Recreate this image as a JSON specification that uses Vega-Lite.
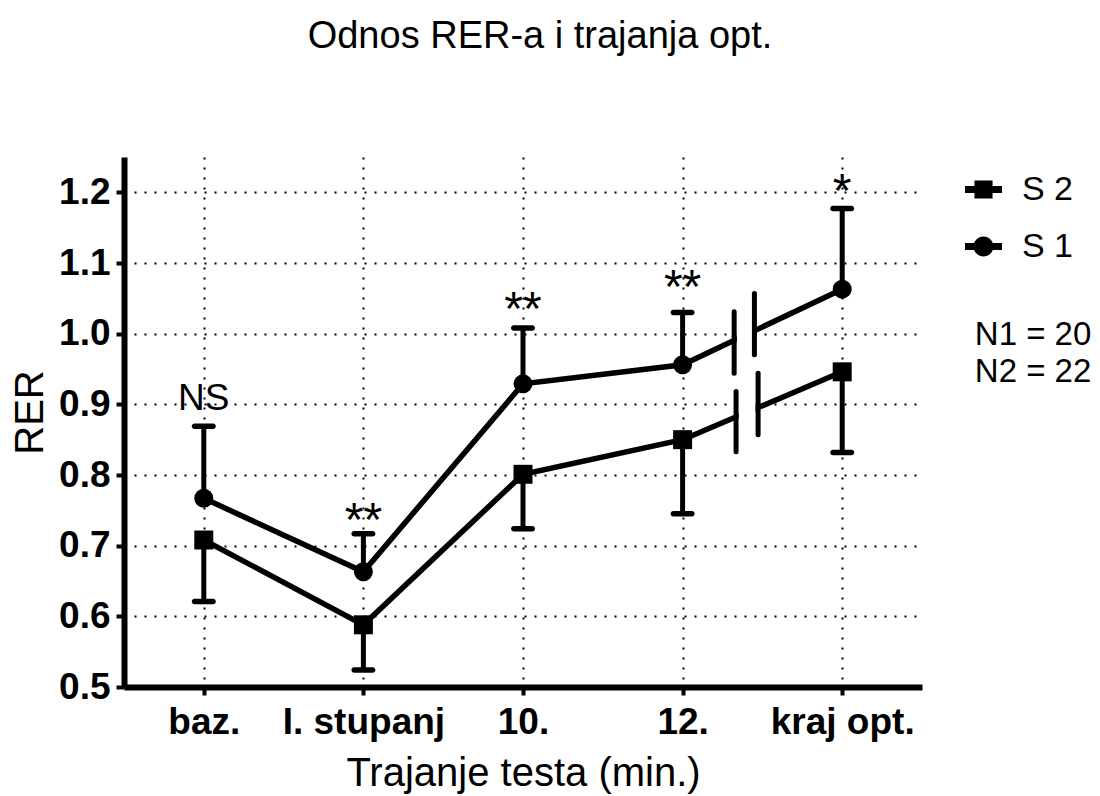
{
  "$schema": "https://vega.github.io/schema/vega-lite/v6.json",
  "width": 798,
  "height": 530,
  "autosize": {"type": "none"},
  "padding": {"left": 124, "top": 157, "right": 178, "bottom": 109},
  "background": "white",
  "title": {"text": "Odnos RER-a i trajanja opt.", "fontSize": 38, "font": "Liberation Sans", "fontWeight": "normal", "color": "black", "anchor": "middle", "frame": "group", "dx": 17, "offset": 71, "baseline": "alphabetic"},
  "config": {
    "view": {"stroke": null},
    "font": "Liberation Sans",
    "axis": {"domainColor": "black", "domainWidth": 6, "tickColor": "black", "tickWidth": 4, "tickSize": 8, "labelFont": "Liberation Sans", "labelFontSize": 37, "labelFontWeight": "bold", "labelColor": "black", "titleFont": "Liberation Sans", "titleFontSize": 40, "titleFontWeight": "normal", "titleColor": "black", "grid": true, "gridColor": "black", "gridWidth": 2, "gridDash": [2, 8], "gridOpacity": 1, "labelFlush": false, "labelOverlap": false},
    "legend": {"orient": "none", "legendX": 841, "legendY": 14, "symbolSize": 1369, "symbolFillColor": "black", "symbolStrokeWidth": 0, "labelFont": "Liberation Sans", "labelFontSize": 34, "labelColor": "black", "labelOffset": 20, "rowPadding": 21, "padding": 0, "labelLimit": 300}
  },
  "datasets": {
    "main": [
      {"t": 0, "g": "S 1", "v": 0.767, "err": 0.869},
      {"t": 1, "g": "S 1", "v": 0.663, "err": 0.717},
      {"t": 2, "g": "S 1", "v": 0.929, "err": 1.008},
      {"t": 3, "g": "S 1", "v": 0.956, "err": 1.030},
      {"t": 4, "g": "S 1", "v": 1.063, "err": 1.177},
      {"t": 0, "g": "S 2", "v": 0.708, "err": 0.621},
      {"t": 1, "g": "S 2", "v": 0.588, "err": 0.524},
      {"t": 2, "g": "S 2", "v": 0.801, "err": 0.724},
      {"t": 3, "g": "S 2", "v": 0.850, "err": 0.745},
      {"t": 4, "g": "S 2", "v": 0.946, "err": 0.832}
    ],
    "masks": [
      {"t": 3.34, "t2": 3.435, "v": 0.975, "v2": 1.02},
      {"t": 3.351, "t2": 3.457, "v": 0.87, "v2": 0.91}
    ],
    "breaks": [
      {"t": 3.323, "t2": 3.323, "v": 0.944, "v2": 1.031},
      {"t": 3.450, "t2": 3.450, "v": 0.970, "v2": 1.057},
      {"t": 3.335, "t2": 3.335, "v": 0.833, "v2": 0.918},
      {"t": 3.473, "t2": 3.473, "v": 0.857, "v2": 0.944}
    ],
    "sig": [
      {"t": 0, "v": 0.892, "label": "NS"},
      {"t": 1, "v": 0.714, "label": "**"},
      {"t": 2, "v": 1.012, "label": "**"},
      {"t": 3, "v": 1.043, "label": "**"},
      {"t": 4, "v": 1.179, "label": "*"}
    ],
    "notes": [
      {"t": 4.831, "v": 0.984, "label": "N1 = 20"},
      {"t": 4.831, "v": 0.932, "label": "N2 = 22"}
    ]
  },
  "encoding": {
    "x": {"field": "t", "type": "quantitative", "scale": {"domain": [-0.5, 4.5], "nice": false, "zero": false},
      "axis": {"values": [0, 1, 2, 3, 4], "labelExpr": "['baz.','I. stupanj','10.','12.','kraj opt.'][datum.value]", "title": "Trajanje testa (min.)", "labelPadding": 38, "labelBaseline": "alphabetic", "titleY": 98, "titleBaseline": "alphabetic"}},
    "y": {"field": "v", "type": "quantitative", "scale": {"domain": [0.5, 1.25], "nice": false, "zero": false},
      "axis": {"values": [0.5, 0.6, 0.7, 0.8, 0.9, 1.0, 1.1, 1.2], "format": ".1f", "title": "RER", "labelPadding": 6, "labelBaseline": "middle", "titleX": -82, "titleY": 255, "titleBaseline": "alphabetic", "titleAlign": "center", "titleAngle": -90}}
  },
  "layer": [
    {"data": {"name": "main"}, "mark": {"type": "line", "color": "black", "strokeWidth": 5.5}, "encoding": {"detail": {"field": "g"}, "order": {"field": "t"}}},
    {"data": {"name": "main"}, "mark": {"type": "rule", "color": "black", "strokeWidth": 5}, "encoding": {"y2": {"field": "err"}}},
    {"data": {"name": "main"}, "mark": {"type": "tick", "orient": "horizontal", "size": 24, "thickness": 5.5, "color": "black", "opacity": 1, "cornerRadius": 2.75}, "encoding": {"y": {"field": "err", "type": "quantitative", "scale": {"domain": [0.5, 1.25], "nice": false, "zero": false}}}},
    {"data": {"name": "main"}, "mark": {"type": "point", "filled": true, "color": "black", "size": 360, "opacity": 1}, "encoding": {"shape": {"field": "g", "type": "nominal", "scale": {"domain": ["S 2", "S 1"], "range": ["square", "circle"]}, "legend": null}}},
    {"data": {"name": "main"}, "mark": {"type": "point", "filled": true, "color": "black", "opacity": 0}, "encoding": {"shape": {"field": "g", "type": "nominal", "scale": {"domain": ["S 2", "S 1"], "range": ["M-1,-0.19H-0.49V-0.49H0.49V-0.19H1V0.19H0.49V0.49H-0.49V0.19H-1Z", "M-1,-0.19H1V0.19H-1Z M-0.54,0A0.54,0.54 0 1,1 0.54,0A0.54,0.54 0 1,1 -0.54,0Z"]}, "legend": {"title": null, "encode": {"symbols": {"update": {"opacity": {"value": 1}, "fill": {"value": "black"}, "fillOpacity": {"value": 1}}}}}}}},
    {"data": {"name": "masks"}, "mark": {"type": "rect", "color": "white"}, "encoding": {"x2": {"field": "t2"}, "y2": {"field": "v2"}}},
    {"data": {"name": "breaks"}, "mark": {"type": "rule", "color": "black", "strokeWidth": 5, "strokeCap": "round"}, "encoding": {"x2": {"field": "t2"}, "y2": {"field": "v2"}}},
    {"data": {"name": "sig"}, "transform": [{"filter": "datum.label == 'NS'"}], "mark": {"type": "text", "fontSize": 37, "font": "Liberation Sans", "color": "black", "align": "center", "baseline": "alphabetic"}, "encoding": {"text": {"field": "label"}}},
    {"data": {"name": "sig"}, "transform": [{"filter": "datum.label != 'NS'"}], "mark": {"type": "text", "fontSize": 48, "font": "Liberation Sans", "color": "black", "align": "center", "baseline": "alphabetic"}, "encoding": {"text": {"field": "label"}}},
    {"data": {"name": "notes"}, "mark": {"type": "text", "fontSize": 33, "font": "Liberation Sans", "color": "black", "align": "left", "baseline": "alphabetic"}, "encoding": {"text": {"field": "label"}}}
  ],
  "resolve": {"scale": {"shape": "independent"}, "legend": {"shape": "independent"}}
}
